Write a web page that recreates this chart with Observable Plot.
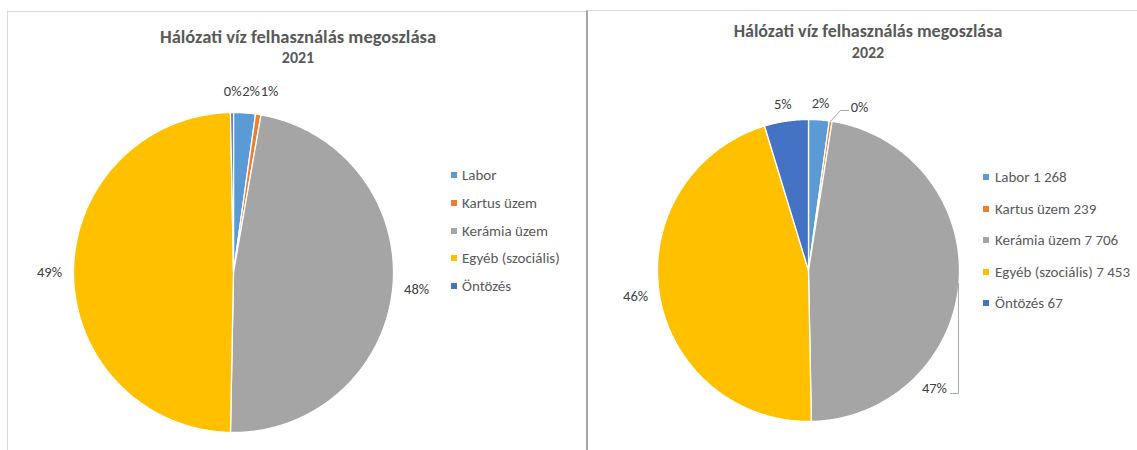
<!DOCTYPE html>
<html>
<head>
<meta charset="utf-8">
<script src="https://cdn.jsdelivr.net/npm/d3@7"></script>
<script src="https://cdn.jsdelivr.net/npm/@observablehq/plot@0.6"></script>
<style>
  html, body { margin: 0; padding: 0; background: #fff; }
  #root { position: relative; width: 1137px; height: 450px; overflow: hidden;
          font-family: Calibri, Carlito, Lato, "Liberation Sans", sans-serif; }
  .panel { position: absolute; box-sizing: border-box; }
  #p1 { left: 7px; top: 11px; width: 580px; height: 470px; border: 1px solid #d9d9d9; }
  #p2 { left: 586px; top: 10px; width: 551px; height: 470px; border-top: 1px solid #d9d9d9; border-left: 2px solid #a6a6a6; }
  .title { position: absolute; font-weight: bold; color: #595959; text-align: center; line-height: 20px; white-space: nowrap; transform: translate(-50%, -50%); }
  .pie { position: absolute; }
  .lg { position: absolute; font-size: 15px; color: #595959; white-space: nowrap; line-height: 16px; transform: translateY(-50%); }
  .sw { position: absolute; width: 6px; height: 6px; transform: translateY(-50%); }
</style>
</head>
<body>
<div id="root">
  <div class="panel" id="p1"></div>
  <div class="panel" id="p2"></div>
</div>
<script>
// ---- data ----
const categories = ["Labor", "Kartus üzem", "Kerámia üzem", "Egyéb (szociális)", "Öntözés"];
const colors = ["#5B9BD5", "#ED7D31", "#A5A5A5", "#FFC000", "#4472C4"];
const title = "Hálózati víz felhasználás megoszlása";
const years = ["2021", "2022"];
const legend2021 = ["Labor", "Kartus üzem", "Kerámia üzem", "Egyéb (szociális)", "Öntözés"];
const legend2022 = ["Labor 1 268", "Kartus üzem 239", "Kerámia üzem 7 706", "Egyéb (szociális) 7 453", "Öntözés 67"];
const share2021 = [2.2, 0.55, 47.55, 49.4, 0.3];
const share2022 = [2.2, 0.3, 47.2, 45.6, 4.7];

// ---- layout ----
const root = document.getElementById("root");

function addTitle(cx, y1, y2, year, fs) {
  const t = document.createElement("div");
  t.className = "title"; t.style.left = cx + "px"; t.style.top = y1 + "px";
  t.style.fontSize = fs + "px";
  t.textContent = title; root.appendChild(t);
  const y = document.createElement("div");
  y.className = "title"; y.style.left = cx + "px"; y.style.top = y2 + "px";
  y.style.fontSize = "16px";
  y.textContent = year; root.appendChild(y);
}

function addLegend(items, sx, tx, y0, dy) {
  items.forEach((txt, i) => {
    const y = y0 + i * dy;
    const s = document.createElement("div");
    s.className = "sw"; s.style.left = sx + "px"; s.style.top = y + "px"; s.style.background = colors[i];
    root.appendChild(s);
    const l = document.createElement("div");
    l.className = "lg"; l.style.left = tx + "px"; l.style.top = y + "px"; l.textContent = txt;
    root.appendChild(l);
  });
}

function pieChart({values, r, S, cx, cy, overrides = {}}) {
  const arcs = d3.pie().sort(null)(values);
  const total = d3.sum(values);
  const poly = [];
  arcs.forEach((a, i) => {
    const n = Math.max(2, Math.ceil((a.endAngle - a.startAngle) / 0.01));
    poly.push({k: categories[i], x: 0, y: 0});
    for (let j = 0; j <= n; j++) {
      const t = a.startAngle + (a.endAngle - a.startAngle) * j / n;
      poly.push({k: categories[i], x: Math.sin(t), y: Math.cos(t)});
    }
    poly.push({k: categories[i], x: 0, y: 0});
  });
  const gap = 10 / r, hw = 14 / r, hh = 7 / r;
  const labels = [], leaders = [];
  arcs.forEach((a, i) => {
    const m = (a.startAngle + a.endAngle) / 2;
    const text = Math.round(values[i] / total * 100) + "%";
    const o = overrides[i];
    if (o) {
      labels.push({x: o.label[0], y: o.label[1], text});
      const pts = o.leaderFromArc ? [[Math.sin(m), Math.cos(m)], ...o.leader] : o.leader;
      pts.forEach(p => leaders.push({k: i, x: p[0], y: p[1]}));
    } else {
      labels.push({
        x: Math.sin(m) * (1 + gap) + Math.sin(m) * hw,
        y: Math.cos(m) * (1 + gap) + Math.cos(m) * hh,
        text
      });
    }
  });
  const dom = S / r;
  const svg = Plot.plot({
    width: 2 * S, height: 2 * S, margin: 0,
    x: {domain: [-dom, dom], axis: null},
    y: {domain: [-dom, dom], axis: null},
    color: {domain: categories, range: colors},
    style: {background: "transparent", overflow: "visible"},
    marks: [
      Plot.line(poly, {x: "x", y: "y", z: "k", fill: "k", stroke: "white", strokeWidth: 1.3, strokeLinejoin: "round", curve: "linear"}),
      Plot.line(leaders, {x: "x", y: "y", z: "k", stroke: "#a6a6a6", strokeWidth: 1}),
      Plot.text(labels, {x: "x", y: "y", text: "text", fill: "#404040", fontSize: 14.5, fontFamily: "Calibri, Carlito, Lato, sans-serif"})
    ]
  });
  svg.classList.add("pie");
  svg.style.left = (cx - S) + "px";
  svg.style.top = (cy - S) + "px";
  root.appendChild(svg);
}

// Left panel: 2021 (labels 0%, 2%, 1% crowd at the top, as in the reference)
addTitle(298, 37, 58, years[0], 18.5);
pieChart({
  values: share2021, r: 160, S: 215, cx: 233, cy: 272,
  overrides: {
    0: {label: [0.11, 1.13], leader: []},
    1: {label: [0.225, 1.13], leader: []},
    4: {label: [-0.005, 1.13], leader: []}
  }
});
addLegend(legend2021, 451, 462, 175, 27.8);

// Right panel: 2022
addTitle(868, 31, 53, years[1], 18);
pieChart({
  values: share2022, r: 151, S: 215, cx: 808, cy: 270,
  overrides: {
    1: {label: [0.338, 1.079], leaderFromArc: true, leader: [[0.212, 1.060], [0.265, 1.060]]},
    2: {label: [0.834, -0.781], leaderFromArc: false, leader: [[0.940, -0.815], [0.993, -0.815], [0.993, -0.086]]}
  }
});
addLegend(legend2022, 983, 995, 177, 31.5);
</script>
</body>
</html>
